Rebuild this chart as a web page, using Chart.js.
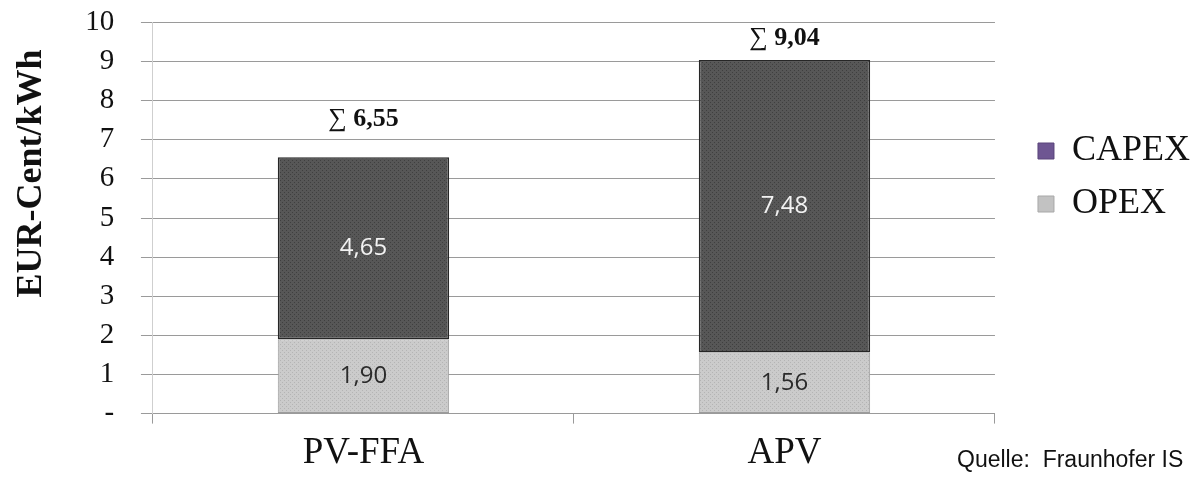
<!DOCTYPE html>
<html>
<head>
<meta charset="utf-8">
<script src="https://cdn.jsdelivr.net/npm/chart.js@4"></script>
<style>
    html, body { margin: 0; padding: 0; background: #fff; }
    #wrap { position: relative; width: 1194px; height: 482px; overflow: hidden; }
    #quelle { position: absolute; left: 957px; top: 446px; font: 23px 'Liberation Sans', Arial, sans-serif; color: #111; white-space: pre; }
</style>
</head>
<body>
<div id="wrap">
    <canvas id="costChart" width="1194" height="482"></canvas>
    <div id="quelle">Quelle:  Fraunhofer IS</div>
</div>
<script>
// Daten (EUR-Cent/kWh)
const categories = ['PV-FFA', 'APV'];
const opexValues = [1.90, 1.56];
const capexValues = [4.65, 7.48];
const yTicks = [0, 1, 2, 3, 4, 5, 6, 7, 8, 9, 10];

const fmt = v => v.toFixed(2).replace('.', ',');

// kleine Punktmuster wie im Original
function makePattern(base, dot) {
    const c = document.createElement('canvas');
    c.width = 4; c.height = 4;
    const g = c.getContext('2d');
    g.fillStyle = base;
    g.fillRect(0, 0, 4, 4);
    g.fillStyle = dot;
    g.fillRect(0, 0, 1, 1);
    g.fillRect(2, 2, 1, 1);
    return g.createPattern(c, 'repeat');
}
const capexFill = makePattern('#575757', '#3f3f3f');
const opexFill = makePattern('#cbcbcb', '#b4b4b4');

// Abstand der Summen-Labels über den Balken
const sumOffsets = [38, 22];

const labelPlugin = {
    id: 'barLabels',
    afterDatasetsDraw(chart) {
        const ctx = chart.ctx;
        ctx.save();
        ctx.textAlign = 'center';
        ctx.textBaseline = 'middle';
        ctx.font = '24px "Open Sans", sans-serif';
        chart.data.datasets.forEach((ds, i) => {
            const meta = chart.getDatasetMeta(i);
            meta.data.forEach((bar, j) => {
                const mid = (bar.y + bar.base) / 2;
                ctx.fillStyle = ds.label === 'CAPEX' ? '#f2f2f2' : '#2b2b2b';
                ctx.fillText(fmt(ds.data[j]), bar.x, mid);
            });
        });
        // Summen
        const top = chart.getDatasetMeta(1).data;
        top.forEach((bar, j) => {
            const sum = opexValues[j] + capexValues[j];
            const y = bar.y - sumOffsets[j];
            const sig = '\u2211 ';
            const num = fmt(sum);
            ctx.font = '26px "Liberation Serif", serif';
            const w1 = ctx.measureText(sig).width;
            ctx.font = 'bold 26px "Liberation Serif", serif';
            const w2 = ctx.measureText(num).width;
            const x0 = bar.x - (w1 + w2) / 2;
            ctx.textAlign = 'left';
            ctx.fillStyle = '#111';
            ctx.font = '26px "Liberation Serif", serif';
            ctx.fillText(sig, x0, y);
            ctx.font = 'bold 26px "Liberation Serif", serif';
            ctx.fillText(num, x0 + w1, y);
            ctx.textAlign = 'center';
        });
        ctx.restore();
    }
};

// Legende verschieben (rechts neben dem Diagramm, etwas unter der Oberkante)
const legendShift = {
    id: 'legendShift',
    afterLayout(chart) {
        const lg = chart.legend;
        lg.top += 109;
        lg.bottom += 109;
        lg.left += 26;
        lg.right += 26;
    }
};

const ctx = document.getElementById('costChart').getContext('2d');
new Chart(ctx, {
    type: 'bar',
    data: {
        labels: categories,
        datasets: [
            {
                label: 'OPEX',
                data: opexValues,
                backgroundColor: opexFill,
                borderColor: '#9c9c9c',
                borderWidth: 1,
                borderSkipped: false
            },
            {
                label: 'CAPEX',
                data: capexValues,
                backgroundColor: capexFill,
                borderColor: '#262626',
                borderWidth: 1.5,
                borderSkipped: false
            }
        ]
    },
    options: {
        responsive: false,
        animation: false,
        layout: { padding: { top: 7, right: 20, bottom: 0, left: 0 } },
        datasets: { bar: { categoryPercentage: 1, barPercentage: 0.407 } },
        plugins: {
            tooltip: { enabled: false },
            legend: {
                position: 'right',
                align: 'start',
                reverse: true,
                labels: {
                    color: '#111',
                    font: { family: 'Liberation Serif', size: 36 },
                    boxWidth: 16,
                    boxHeight: 16,
                    padding: 17,
                    generateLabels(chart) {
                        const items = Chart.defaults.plugins.legend.labels.generateLabels(chart);
                        items.forEach(it => {
                            it.fillStyle = it.text === 'CAPEX' ? '#6e5692' : '#c2c2c2';
                            it.strokeStyle = it.text === 'CAPEX' ? '#5a447a' : '#a8a8a8';
                            it.lineWidth = 1;
                        });
                        return items;
                    }
                }
            }
        },
        scales: {
            x: {
                stacked: true,
                offset: true,
                grid: { offset: true, drawOnChartArea: false, color: '#9a9a9a', tickLength: 10 },
                border: { color: '#9a9a9a' },
                ticks: { color: '#111', padding: 7, font: { family: 'Liberation Serif', size: 37 } }
            },
            y: {
                stacked: true,
                min: 0,
                max: 10,
                afterBuildTicks(axis) { axis.ticks = yTicks.map(v => ({ value: v })); },
                grid: { color: '#9a9a9a', tickLength: 12 },
                border: { color: '#cfcfcf' },
                ticks: {
                    color: '#111',
                    padding: 5,
                    autoSkip: false,
                    font: { family: 'Liberation Serif', size: 29 },
                    // Leerzeichen halten die Zahlen vom Gitter fern
                    callback: v => (v === 0 ? '-' : v) + '   '
                },
                title: {
                    display: true,
                    text: 'EUR-Cent/kWh   ',
                    align: 'end',
                    color: '#111',
                    padding: { top: 10, bottom: 27 },
                    font: { family: 'Liberation Serif', size: 36, weight: 'bold' }
                }
            }
        }
    },
    plugins: [labelPlugin, legendShift]
});
</script>
</body>
</html>
